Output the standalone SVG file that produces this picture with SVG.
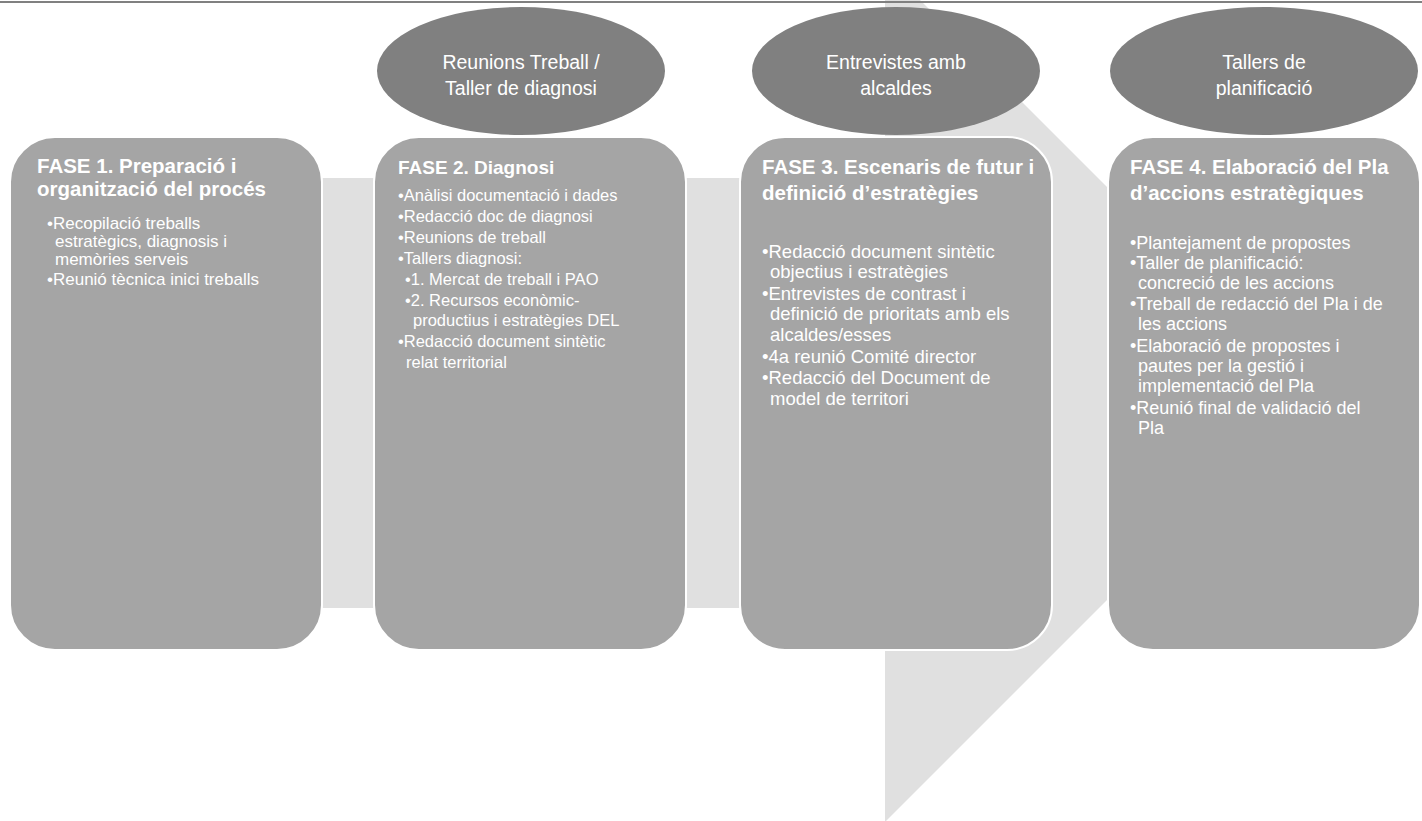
<svg xmlns="http://www.w3.org/2000/svg" width="1422" height="821" viewBox="0 0 1422 821">
<style>
.box{fill:#a5a5a5;stroke:#ffffff;stroke-width:2}
.ell{fill:#808080;stroke:none}
.band{fill:#e0e0e0;stroke:none}
.t{font-family:"Liberation Sans",Arial,sans-serif;fill:#ffffff}
.ti{font-size:20.5px;font-weight:bold}
.ti2{font-size:19px;font-weight:bold}
.b1{font-size:17px}
.b2{font-size:16.5px}
.b3{font-size:18.5px}
.b4{font-size:18px}
.et{font-size:19.5px;text-anchor:middle}
</style>
<rect x="0" y="0" width="1422" height="821" fill="#ffffff"/>
<g id="connectors">
<polygon class="band" points="885,0 920,0 1130,210 1130,577 885,822"/>
<rect class="band" x="318" y="178" width="60" height="430"/>
<rect class="band" x="682" y="178" width="62" height="430"/>
</g>
<line x1="0" y1="2" x2="1422" y2="2" stroke="#808080" stroke-width="2"/>
<g id="ellipse1">
<ellipse class="ell" cx="521" cy="71" rx="144" ry="64"/>
<text class="t et" x="521" y="69">Reunions Treball /</text>
<text class="t et" x="521" y="95">Taller  de diagnosi</text>
</g>
<g id="ellipse2">
<ellipse class="ell" cx="896" cy="71" rx="144" ry="64"/>
<text class="t et" x="896" y="69">Entrevistes amb</text>
<text class="t et" x="896" y="95">alcaldes</text>
</g>
<g id="ellipse3">
<ellipse class="ell" cx="1264" cy="71" rx="154" ry="64"/>
<text class="t et" x="1264" y="69">Tallers de</text>
<text class="t et" x="1264" y="95">planificació</text>
</g>
<g id="fase1">
<rect class="box" x="10" y="137" width="312" height="513" rx="45" ry="45"/>
<text class="t ti" x="37" y="173">FASE 1. Preparació i</text>
<text class="t ti" x="37" y="196">organització del procés</text>
<text class="t b1" x="47" y="229">•Recopilació treballs</text>
<text class="t b1" x="55" y="247">estratègics, diagnosis i</text>
<text class="t b1" x="55" y="265">memòries serveis</text>
<text class="t b1" x="47" y="285">•Reunió tècnica inici treballs</text>
</g>
<g id="fase2">
<rect class="box" x="374" y="137" width="312" height="513" rx="45" ry="45"/>
<text class="t ti2" x="398" y="174">FASE 2. Diagnosi</text>
<text class="t b2" x="398" y="201">•Anàlisi documentació i dades</text>
<text class="t b2" x="398" y="222">•Redacció  doc de diagnosi</text>
<text class="t b2" x="398" y="243">•Reunions de treball</text>
<text class="t b2" x="398" y="264">•Tallers diagnosi:</text>
<text class="t b2" x="405" y="285">•1. Mercat de treball i PAO</text>
<text class="t b2" x="405" y="306">•2. Recursos econòmic-</text>
<text class="t b2" x="413" y="326">productius i estratègies DEL</text>
<text class="t b2" x="398" y="347">•Redacció  document sintètic</text>
<text class="t b2" x="406" y="368">relat territorial</text>
</g>
<g id="fase3">
<rect class="box" x="740" y="137" width="312" height="513" rx="45" ry="45"/>
<text class="t ti" x="762" y="174">FASE 3. Escenaris de futur i</text>
<text class="t ti" x="762" y="200">definició d’estratègies</text>
<text class="t b3" x="762" y="258">•Redacció  document sintètic</text>
<text class="t b3" x="770" y="278">objectius i estratègies</text>
<text class="t b3" x="762" y="300">•Entrevistes de contrast i</text>
<text class="t b3" x="770" y="320">definició de prioritats amb els</text>
<text class="t b3" x="770" y="341">alcaldes/esses</text>
<text class="t b3" x="762" y="363">•4a reunió Comité director</text>
<text class="t b3" x="762" y="384">•Redacció del Document de</text>
<text class="t b3" x="770" y="405">model de territori</text>
</g>
<g id="fase4">
<rect class="box" x="1108" y="137" width="312" height="513" rx="45" ry="45"/>
<text class="t ti" x="1130" y="174">FASE 4. Elaboració del Pla</text>
<text class="t ti" x="1130" y="200">d’accions estratègiques</text>
<text class="t b4" x="1130" y="249">•Plantejament de propostes</text>
<text class="t b4" x="1130" y="269">•Taller de planificació:</text>
<text class="t b4" x="1138" y="289">concreció de les accions</text>
<text class="t b4" x="1130" y="310">•Treball de redacció del Pla i de</text>
<text class="t b4" x="1138" y="330">les accions</text>
<text class="t b4" x="1130" y="352">•Elaboració de propostes i</text>
<text class="t b4" x="1138" y="372">pautes per la gestió i</text>
<text class="t b4" x="1138" y="392">implementació del Pla</text>
<text class="t b4" x="1130" y="414">•Reunió final de validació del</text>
<text class="t b4" x="1138" y="434">Pla</text>
</g>
</svg>
